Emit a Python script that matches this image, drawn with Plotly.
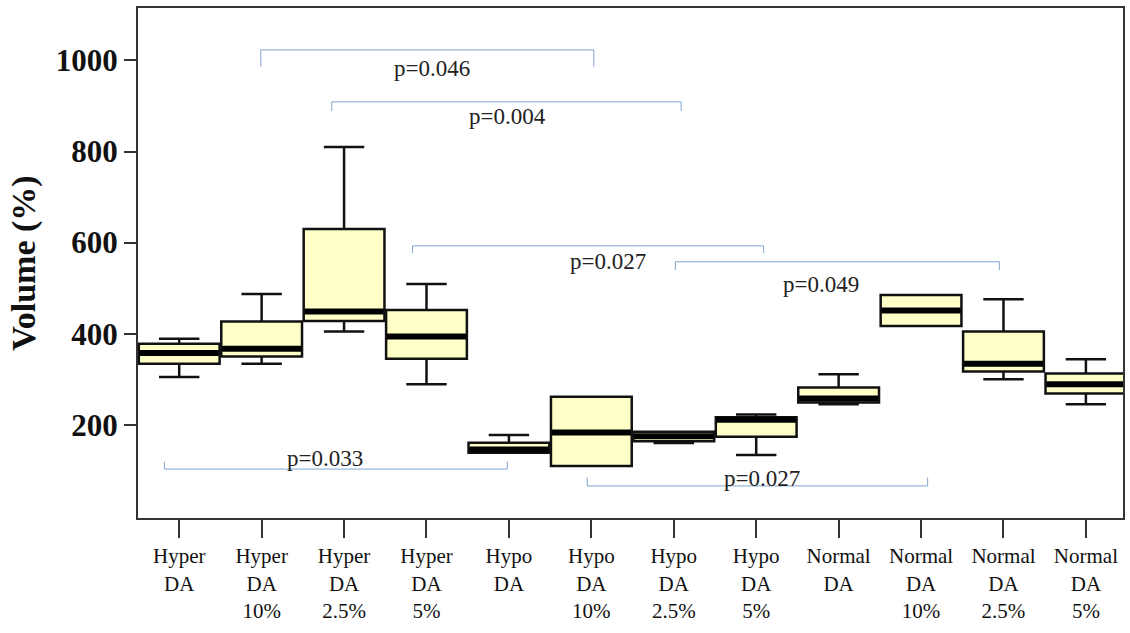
import plotly.graph_objects as go

# ---- data ----
categories = ["Hyper<br>DA", "Hyper<br>DA<br>10%", "Hyper<br>DA<br>2.5%", "Hyper<br>DA<br>5%",
              "Hypo<br>DA", "Hypo<br>DA<br>10%", "Hypo<br>DA<br>2.5%", "Hypo<br>DA<br>5%",
              "Normal<br>DA", "Normal<br>DA<br>10%", "Normal<br>DA<br>2.5%", "Normal<br>DA<br>5%"]
positions = list(range(len(categories)))
lower_whisker = [305, 334, 405, 289, 139, 110, 160, 134, 245, 417, 300, 245]
q1_vals = [334, 350, 428, 345, 139, 110, 164, 174, 249, 417, 317, 269]
median_vals = [358, 367, 449, 394, 146, 183, 175, 211, 258, 451, 334, 289]
q3_vals = [378, 427, 630, 452, 161, 262, 185, 217, 282, 485, 405, 313]
upper_whisker = [389, 487, 810, 509, 178, 262, 185, 223, 311, 485, 476, 344]

# significance brackets: (x start, x end, line level, end level, label, label x, label y)
bracket_x0 = [0.99, 1.85, 2.83, 6.02, -0.18, 4.95]
bracket_x1 = [5.03, 6.09, 7.09, 9.95, 3.98, 9.08]
bracket_y = [1023, 909, 593, 558, 103, 66]
bracket_end = [986, 889, 577, 540, 119, 84]
p_labels = ["p=0.046", "p=0.004", "p=0.027", "p=0.049", "p=0.033", "p=0.027"]
p_label_x = [3.07, 3.98, 5.2, 7.79, 1.77, 7.07]
p_label_y = [982, 876, 558, 509, 127, 83]

yticks = [200, 400, 600, 800, 1000]

fig = go.Figure()

fig.add_trace(go.Box(
    x=positions, q1=q1_vals, median=median_vals, q3=q3_vals,
    lowerfence=lower_whisker, upperfence=upper_whisker,
    width=0.98, whiskerwidth=0.5,
    fillcolor="#FFFFC8", line=dict(color="#111111", width=2.5),
    boxpoints=False, showlegend=False, hoverinfo="skip",
))

# thick median lines
mx, my = [], []
for p, m in zip(positions, median_vals):
    mx += [p - 0.48, p + 0.48, None]
    my += [m, m, None]
fig.add_trace(go.Scatter(x=mx, y=my, mode="lines",
                         line=dict(color="#000000", width=6),
                         showlegend=False, hoverinfo="skip"))

# brackets
bx, by = [], []
for x0, x1, yl, ye in zip(bracket_x0, bracket_x1, bracket_y, bracket_end):
    bx += [x0, x0, x1, x1, None]
    by += [ye, yl, yl, ye, None]
fig.add_trace(go.Scatter(x=bx, y=by, mode="lines",
                         line=dict(color="#7fa6cf", width=1),
                         showlegend=False, hoverinfo="skip"))

for t, x, y in zip(p_labels, p_label_x, p_label_y):
    fig.add_annotation(x=x, y=y, text=t, showarrow=False,
                       font=dict(family="Liberation Serif", size=23, color="#222222"))

fig.update_layout(
    width=1130, height=633,
    margin=dict(l=138, r=5, t=8, b=115),
    paper_bgcolor="white", plot_bgcolor="white",
    showlegend=False,
)
fig.update_xaxes(
    range=[-0.5, 11.45], tickmode="array", tickvals=positions, ticktext=categories,
    ticks="outside", ticklen=18, tickwidth=2, tickcolor="#333333",
    showline=True, linecolor="#333333", linewidth=2, mirror=True,
    showgrid=False, zeroline=False,
    tickfont=dict(family="Liberation Serif", size=21, color="#111111"),
)
fig.update_yaxes(
    range=[-4.4, 1115], tickmode="array", tickvals=yticks,
    ticks="outside", ticklen=12, tickwidth=2, tickcolor="#333333",
    showline=True, linecolor="#333333", linewidth=2, mirror=True,
    showgrid=False, zeroline=False,
    tickfont=dict(family="Liberation Serif", size=31, color="#111111", weight="bold"),
    title=dict(text="Volume (%)", standoff=10,
               font=dict(family="Liberation Serif", size=34, color="#111111", weight="bold")),
)

fig.write_html("out.html")
